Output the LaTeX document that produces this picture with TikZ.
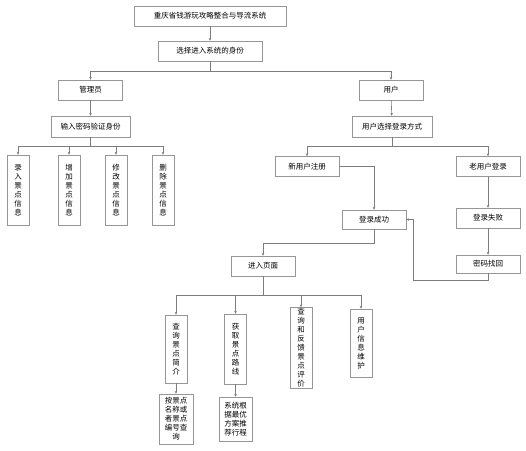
\documentclass[tikz,border=0pt]{standalone}
\usepackage{fontspec}
\setmainfont{Noto Sans CJK SC}
\usetikzlibrary{arrows.meta,positioning,calc}
\definecolor{linegray}{RGB}{125,125,125}
\definecolor{boxline}{RGB}{150,150,150}
\tikzset{
  box/.style={draw=boxline, fill=white, minimum width=64pt, minimum height=20pt,
              inner sep=1pt, font=\fontsize{7.5}{9}\selectfont},
  vbox/.style={draw=boxline, fill=white, minimum width=22pt, text width=10pt,
               align=center, inner sep=1pt, font=\fontsize{7.5}{9}\selectfont},
  tbox/.style={vbox, minimum width=34pt, text width=24pt},
  arr/.style={-{Stealth[length=3pt,width=2.6pt]}, linegray, line width=0.6pt},
}

\begin{document}
\begin{tikzpicture}[x=1pt,y=-1pt]
  \useasboundingbox (0,0) rectangle (526,450);
  \node[box, minimum width=152pt] (title) at (210,16) {重庆省钱游玩攻略整合与导流系统};
  \node[box, minimum width=104pt] (role) at (210,51) {选择进入系统的身份};
  \node[box] (admin) at (90.5,90) {管理员};
  \node[box] (user) at (391,90) {用户};
  \node[box, minimum width=79pt, minimum height=21pt] (verify) at (90.5,126.5) {输入密码验证身份};
  \node[box, minimum width=80pt, minimum height=21pt] (mode) at (392,126.5) {用户选择登录方式};
  \node[vbox, minimum height=70pt] (enter) at (18,190) {录\\入\\景\\点\\信\\息};
  \node[vbox, minimum height=70pt] (add) at (69,190) {增\\加\\景\\点\\信\\息};
  \node[vbox, minimum height=70pt] (edit) at (116,190) {修\\改\\景\\点\\信\\息};
  \node[vbox, minimum height=70pt] (del) at (163,190) {删\\除\\景\\点\\信\\息};
  \node[box] (newreg) at (307,166.5) {新用户注册};
  \node[box] (oldlog) at (488,166.5) {老用户登录};
  \node[box, minimum height=19pt] (success) at (374,219.5) {登录成功};
  \node[box] (fail) at (488,218) {登录失败};
  \node[box, minimum height=18pt] (findpw) at (488,264) {密码找回};
  \node[box] (page) at (263,266) {进入页面};
  \node[vbox, minimum height=68pt] (intro) at (176,349) {查\\询\\景\\点\\简\\介};
  \node[vbox, minimum height=70pt] (route) at (235.5,349) {获\\取\\景\\点\\路\\线};
  \node[vbox, minimum height=78pt] (review) at (301,348) {查\\询\\和\\反\\馈\\景\\点\\评\\价};
  \node[vbox, minimum height=68pt] (info) at (361,343) {用\\户\\信\\息\\维\\护};
  \node[tbox, minimum height=50pt] (byname) at (176,419) {按景点\\名称或\\者景点\\编号查\\询};
  \node[tbox, minimum width=33pt, minimum height=44pt] (plan) at (235.5,419) {系统根\\据最优\\方案推\\荐行程};

  \draw[arr] (title) -- (role);
  \draw[arr] (role.south) -- ++(0,10) -| (admin.north);
  \draw[arr] (role.south) -- ++(0,10) -| (user.north);
  \draw[arr] (admin) -- (verify);
  \draw[arr] (user) -- (mode);
  \foreach \n in {enter,add,edit,del}
    \draw[arr] (verify.south) -- ++(0,9) -| (\n.north);
  \draw[arr] (mode.south) -- ++(0,9) -| (newreg.north);
  \draw[arr] (mode.south) -- ++(0,9) -| (oldlog.north);
  \draw[arr] (newreg.east) -| (success.north);
  \draw[arr] (oldlog) -- (fail);
  \draw[arr] (fail) -- (findpw);
  \draw[arr] (findpw.south) -- ++(0,7) -| ($(success.east)+(7,0)$) -- (success.east);
  \draw[arr] (success.south) -- ++(0,14) -| (page.north);
  \foreach \n in {intro,route,review,info}
    \draw[arr] (page.south) -- ++(0,19) -| (\n.north);
  \draw[arr] (intro) -- (byname);
  \draw[arr] (route) -- (plan);
\end{tikzpicture}
\end{document}
